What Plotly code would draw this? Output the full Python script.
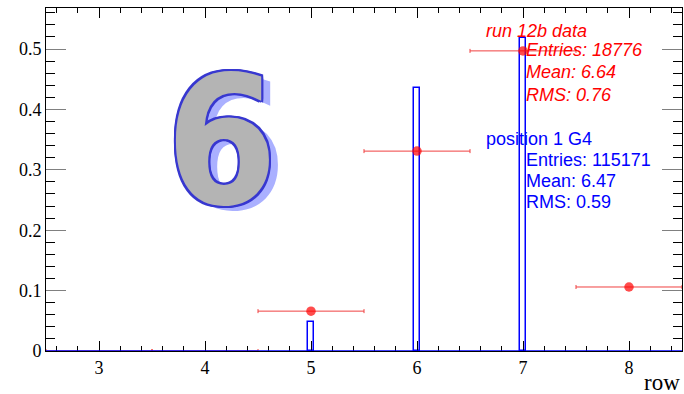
import plotly.graph_objects as go

# position 1 G4 simulation, normalised row occupancy
sim_rows = [5, 6, 7]
sim_frac = [0.048, 0.435, 0.518]

# run 12b data, normalised, with bin half widths
data_rows = [3, 4, 5, 6, 7, 8]
data_frac = [0.0, 0.0, 0.066, 0.331, 0.497, 0.106]
data_xerr = [0.5, 0.5, 0.5, 0.5, 0.5, 0.5]

x_ticks = [3, 4, 5, 6, 7, 8]
y_ticks = [0, 0.1, 0.2, 0.3, 0.4, 0.5]
y_tick_text = ["0", "0.1", "0.2", "0.3", "0.4", "0.5"]

data_stats = ["run 12b data", "Entries: 18776", "Mean: 6.64", "RMS: 0.76"]
sim_stats = ["position 1 G4", "Entries: 115171", "Mean: 6.47", "RMS: 0.59"]

fig = go.Figure()

# simulation histogram drawn as open bars
fig.add_trace(go.Bar(
    x=sim_rows, y=sim_frac, width=0.06,
    marker=dict(color="rgba(0,0,0,0)", line=dict(color="#0000ff", width=1.5)),
    name="position 1 G4",
))

# data points, empty bins only show the error bar
fig.add_trace(go.Scatter(
    x=data_rows, y=data_frac, mode="markers",
    marker=dict(color="#ff0000", size=[0 if v == 0 else 9.5 for v in data_frac],
                line=dict(width=0)),
    error_x=dict(type="data", array=data_xerr, color="#f04040", thickness=1, width=2),
    cliponaxis=False,
    name="run 12b data",
))

fig.add_hline(y=0, line_color="#0000ff", line_width=1.5)

serif = "Liberation Serif, Times New Roman, serif"
sans = "Liberation Sans, Arial, sans-serif"

# stats boxes
for i, s in enumerate(data_stats):
    fig.add_annotation(
        x=0.689 if i == 0 else 0.752, y=[0.933, 0.878, 0.813, 0.746][i],
        xref="paper", yref="paper", xanchor="left", yanchor="middle",
        text=f"<i>{s}</i>", showarrow=False,
        font=dict(family=sans, size=18, color="#ff0000"),
    )
for i, s in enumerate(sim_stats):
    fig.add_annotation(
        x=0.689 if i == 0 else 0.752, y=[0.618, 0.557, 0.496, 0.434][i],
        xref="paper", yref="paper", xanchor="left", yanchor="middle",
        text=s, showarrow=False,
        font=dict(family=sans, size=18, color="#0000ff"),
    )

# big outlined "6" label
outline = ", ".join(f"{dx}px {dy}px 0 #3838d0" for dx, dy in
                    [(-2, 0), (2, 0), (0, -2), (0, 2), (-2, -2), (2, 2), (-2, 2), (2, -2)])
fig.add_annotation(
    x=0.276, y=0.61, xref="paper", yref="paper", xanchor="center", yanchor="middle",
    text="6", showarrow=False,
    font=dict(family="Liberation Sans Narrow, DejaVu Sans Condensed, Arial Narrow, sans-serif",
              size=178, color="#b4b4b4", weight="bold",
              shadow=outline + ", 9px 5px 0 #aab0ff"),
)

fig.add_annotation(
    x=1.0, y=-0.093, xref="paper", yref="paper", xanchor="right", yanchor="middle",
    text="row", showarrow=False,
    font=dict(family=serif, size=23, color="#000000"),
)

fig.update_xaxes(
    range=[2.5, 8.5], tickvals=x_ticks, automargin=False,
    ticks="inside", ticklen=10, tickcolor="#000000",
    minor=dict(dtick=0.2, ticks="inside", ticklen=5, tickcolor="#000000"),
    showline=True, linecolor="#000000", linewidth=1, mirror="ticks",
    showgrid=False, zeroline=False,
    tickfont=dict(family=serif, size=18, color="#000000"),
)
fig.update_yaxes(
    range=[0, 0.568], tickvals=y_ticks, ticktext=y_tick_text, automargin=False,
    ticks="inside", ticklen=20, tickcolor="#808080",
    minor=dict(dtick=0.02, ticks="inside", ticklen=9, tickcolor="#000000"),
    showline=True, linecolor="#000000", linewidth=1, mirror="ticks",
    showgrid=False, zeroline=False,
    tickfont=dict(family=serif, size=18, color="#000000"),
)

fig.update_layout(
    width=684, height=394,
    margin=dict(l=46, r=2, t=8, b=43),
    paper_bgcolor="#ffffff", plot_bgcolor="#ffffff",
    showlegend=False, bargap=0,
)

# drop the default body margin so the figure fills the window exactly
fig.write_html("out.html", config={"displayModeBar": False},
               post_script="document.body.style.margin = '0';")
